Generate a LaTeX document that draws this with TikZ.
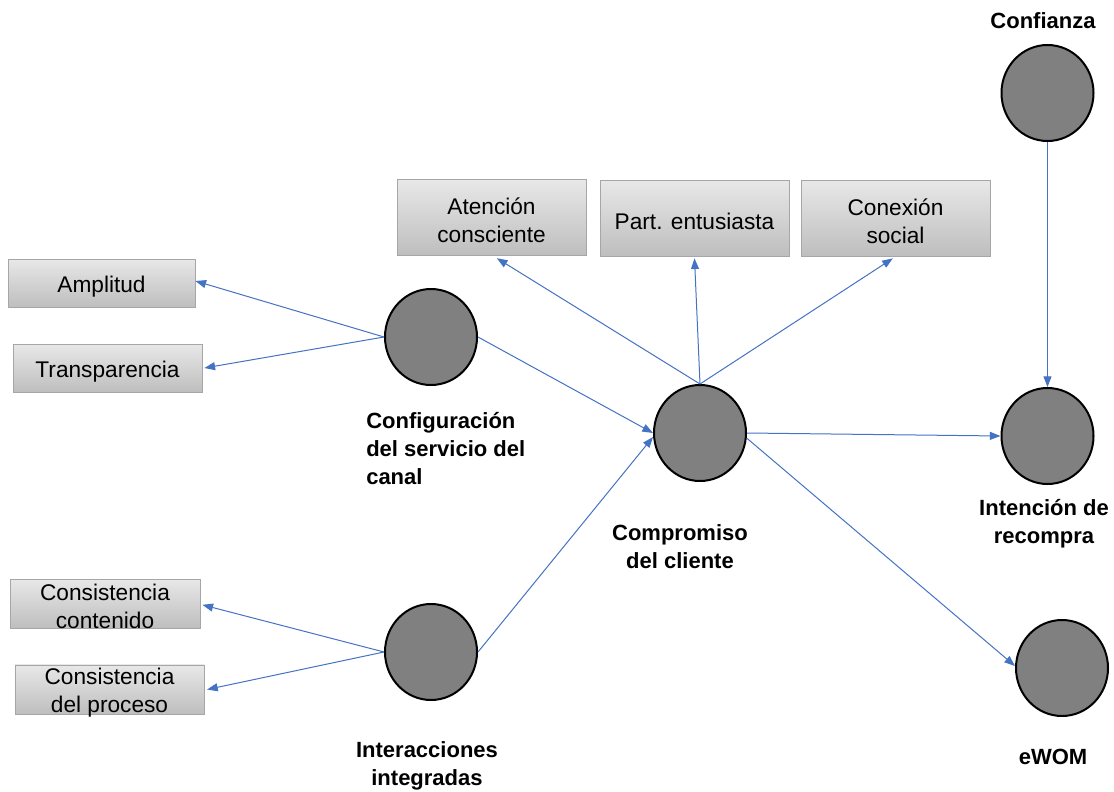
\documentclass[tikz,border=0pt]{standalone}
\usepackage{fontspec}
\setmainfont{Liberation Sans}
\usetikzlibrary{shapes.geometric,arrows.meta}
\definecolor{lineblue}{HTML}{4472C4}
\definecolor{boxtop}{HTML}{E8E8E8}
\definecolor{boxbot}{HTML}{BEBEBE}
\definecolor{boxline}{HTML}{A6A6A6}
\definecolor{circfill}{HTML}{808080}
\newcommand\dn[1]{\raisebox{-2.4pt}[\height][\depth]{#1}}
\tikzset{
  lbl/.style={font=\fontsize{16.5}{21}\selectfont\bfseries, align=center, inner sep=0pt},
  boxnode/.style={rectangle, draw=boxline, line width=0.6pt, top color=boxtop, bottom color=boxbot,
     align=center, inner sep=0pt, font=\fontsize{17}{21}\selectfont},
  circnode/.style={ellipse, draw=black, line width=1.5pt, fill=circfill,
     minimum width=69pt, minimum height=72pt, inner sep=0pt},
  conn/.style={draw=lineblue, line width=0.75pt, -{Triangle[length=8pt,width=6pt]}}
}
\begin{document}
\begin{tikzpicture}[x=0.75pt,y=-0.75pt]
\useasboundingbox (0,0) rectangle (1114,792);
% boxes
\node[boxnode, minimum width=140.25pt, minimum height=36pt] (amp) at (101.5,283) {\dn{Amplitud}};
\node[boxnode, minimum width=141.75pt, minimum height=36pt] (tra) at (107.5,368) {\dn{Transparencia}};
\node[boxnode, minimum width=141.75pt, minimum height=57.5pt] (ate) at (491.5,217.5) {\dn{Atención}\\\dn{consciente}};
\node[boxnode, minimum width=141.75pt, minimum height=57pt] (par) at (694.5,218) {\dn{Part. entusiasta}};
\node[boxnode, minimum width=141.75pt, minimum height=57pt] (con) at (895.5,218) {\dn{Conexión}\\\dn{social}};
\node[boxnode, minimum width=142.5pt, minimum height=36.75pt] (cco) at (105,603.5) {\dn{Consistencia}\\\dn{contenido}};
\node[boxnode, minimum width=141.75pt, minimum height=36.75pt] (cpr) at (109.5,689.5) {\dn{Consistencia}\\\dn{del proceso}};
% circles
\node[circnode] (cfg) at (431,337) {};
\node[circnode] (cmp) at (700,433) {};
\node[circnode] (itg) at (431,652) {};
\node[circnode] (cnf) at (1047.5,93) {};
\node[circnode] (ire) at (1047.5,436) {};
\node[circnode] (ewm) at (1062,668) {};
% labels
\node[lbl, align=left, anchor=west] (lcfg) at (366,449) {Configuración\\del servicio del\\canal};
\node[lbl] (lcmp) at (680,547) {Compromiso\\del cliente};
\node[lbl] (lire) at (1044,524) {Intención de\\recompra};
\node[lbl] (litg) at (427,766) {Interacciones\\integradas};
\node[lbl] (lcnf) at (1043,21) {Confianza};
\node[lbl] (lewm) at (1053,757) {eWOM};
% connectors
\draw[conn] (cfg.west) -- ([yshift=1.5pt]amp.east);
\draw[conn] (cfg.west) -- ([xshift=1.5pt]tra.east);
\draw[conn] (cfg.east) -- (cmp.west);
\draw[conn] (itg.west) -- ([xshift=1.5pt,yshift=-1pt]cco.east);
\draw[conn] (itg.west) -- ([xshift=2pt]cpr.east);
\draw[conn] (itg.east) -- ([yshift=-3pt]cmp.west);
\draw[conn] (cmp.north) -- ([xshift=4pt,yshift=-1.5pt]ate.south);
\draw[conn] (cmp.north) -- ([yshift=-1.5pt]par.south);
\draw[conn] (cmp.north) -- ([xshift=-2pt,yshift=-1.5pt]con.south);
\draw[conn] (cmp.east) -- (ire.west);
\draw[conn] ([yshift=-4pt]cmp.east) -- ([yshift=1.5pt]ewm.west);
\draw[conn] (cnf.south) -- (ire.north);
\end{tikzpicture}
\end{document}
